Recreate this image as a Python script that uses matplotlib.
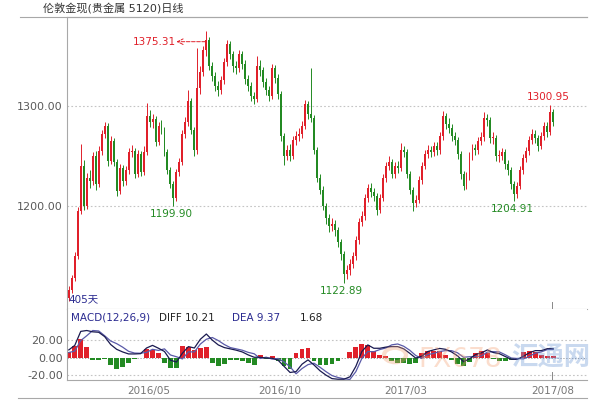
import matplotlib
matplotlib.use("Agg")
import matplotlib.pyplot as plt
import numpy as np
from matplotlib.lines import Line2D
from matplotlib.patches import Circle

plt.rcParams["font.family"] = ["DejaVu Sans", "Noto Sans CJK SC"]

# daily candles (London spot gold)
first_open = 1108
closes = [
    1116, 1128, 1150, 1195, 1240, 1200, 1228, 1225, 1250, 1222,
    1255, 1272, 1280, 1245, 1265, 1244, 1215, 1238, 1225, 1236,
    1254, 1255, 1232, 1252, 1234, 1254, 1290, 1284, 1287, 1264,
    1280, 1276, 1254, 1236, 1222, 1208, 1234, 1244, 1272, 1284,
    1305, 1276, 1256, 1318, 1334, 1356, 1366, 1340, 1330, 1320,
    1316, 1326, 1344, 1362, 1352, 1340, 1338, 1352, 1342, 1327,
    1320, 1310, 1307, 1340, 1336, 1324, 1316, 1310, 1338, 1328,
    1312, 1270, 1250, 1256, 1250, 1266, 1270, 1272, 1280, 1302,
    1292, 1288, 1256, 1228, 1216, 1200, 1188, 1180, 1182, 1176,
    1164, 1152, 1132, 1136, 1142, 1150, 1166, 1184, 1190, 1208,
    1218, 1214, 1210, 1196, 1208, 1228, 1240, 1244, 1232, 1240,
    1238, 1256, 1254, 1232, 1216, 1203, 1206, 1226, 1240, 1252,
    1256, 1254, 1260, 1256, 1270, 1290, 1282, 1278, 1270, 1266,
    1252, 1232, 1220, 1230, 1250, 1258, 1256, 1265, 1269, 1288,
    1286, 1268, 1268, 1250, 1250, 1254, 1242, 1236, 1222, 1212,
    1220, 1236, 1248, 1255, 1266, 1272, 1268, 1260, 1270, 1280,
    1274, 1294, 1284,
]
highs = [
    1120, 1131, 1154, 1199, 1262, 1246, 1233, 1236, 1254, 1255,
    1260, 1276, 1284, 1283, 1270, 1268, 1247, 1242, 1241, 1240,
    1258, 1261, 1258, 1256, 1255, 1260, 1303, 1296, 1292, 1290,
    1284, 1286, 1279, 1257, 1239, 1225, 1237, 1248, 1276, 1289,
    1316, 1308, 1279, 1358, 1340, 1360, 1375.31, 1369, 1344, 1334,
    1325, 1330, 1348, 1366, 1365, 1355, 1345, 1356, 1355, 1346,
    1331, 1324, 1314, 1350, 1346, 1339, 1328, 1320, 1342, 1341,
    1332, 1315, 1273, 1261, 1262, 1270, 1275, 1278, 1285, 1306,
    1305, 1338, 1291, 1259, 1232, 1220, 1203, 1192, 1188, 1186,
    1179, 1167, 1155, 1141, 1147, 1154, 1170, 1188, 1195, 1212,
    1222, 1223, 1218, 1213, 1212, 1232, 1244, 1250, 1247, 1244,
    1245, 1263, 1260, 1257, 1235, 1219, 1211, 1230, 1244, 1256,
    1261, 1260, 1264, 1264, 1274, 1295, 1293, 1288, 1282, 1274,
    1269, 1255, 1235, 1234, 1254, 1262, 1262, 1269, 1274, 1294,
    1292, 1289, 1274, 1271, 1256, 1258, 1257, 1246, 1239, 1225,
    1224, 1240, 1252, 1259, 1270, 1277, 1276, 1271, 1274, 1284,
    1284, 1300.95, 1297,
]
lows = [
    1105, 1113, 1125, 1147, 1192, 1196, 1197, 1218, 1221, 1216,
    1219, 1251, 1268, 1240, 1242, 1240, 1210, 1212, 1220, 1221,
    1232, 1249, 1228, 1229, 1230, 1231, 1251, 1279, 1278, 1260,
    1261, 1272, 1250, 1232, 1218, 1199.90, 1205, 1230, 1241, 1268,
    1280, 1272, 1250, 1252, 1312, 1330, 1350, 1336, 1325, 1315,
    1310, 1312, 1322, 1340, 1347, 1334, 1332, 1334, 1337, 1322,
    1315, 1305, 1302, 1304, 1330, 1319, 1311, 1305, 1307, 1323,
    1307, 1265, 1241, 1246, 1245, 1247, 1261, 1265, 1268, 1277,
    1287, 1284, 1252, 1224, 1212, 1196, 1182, 1174, 1175, 1170,
    1159, 1146, 1122.89, 1127, 1131, 1138, 1146, 1162, 1180, 1186,
    1204, 1209, 1205, 1191, 1193, 1205, 1224, 1236, 1228, 1228,
    1233, 1235, 1249, 1228, 1212, 1195, 1199, 1203, 1222, 1237,
    1248, 1249, 1250, 1251, 1252, 1266, 1277, 1273, 1265, 1261,
    1247, 1227, 1216, 1217, 1226, 1246, 1251, 1252, 1261, 1265,
    1280, 1263, 1262, 1245, 1244, 1246, 1237, 1231, 1217, 1204.91,
    1208, 1217, 1232, 1244, 1251, 1262, 1263, 1255, 1257, 1266,
    1269, 1271, 1280,
]

# MACD(12,26,9), sampled every second candle
diff = [
    8.8, 14, 30, 31, 29.5, 29, 24, 15, 9.5, 6.5, 4.2, 4.2, 4.5, 11, 14, 10.7,
    7, -3, -5, 5, 12.6, 11, 21, 27, 20, 14.5, 11.5, 10, 8.5, 6.5, 3.1, 0.4,
    0.4, -0.5, -0.7, -3, -10, -17, -16, -7.5, -2.6, -8.4, -15, -20, -24, -24.7,
    -24.7, -22, -10, 7, 14.5, 10.7, 10.7, 12, 12.6, 12.6, 10, 5, -0.5, 1.5,
    6.9, 8.8, 10.5, 9.5, 6.5, 2, -4.6, -1.5, 3.5, 5.5, 8.8, 5.8, 4.5, 1.2,
    -2, -2, 1.5, 5.5, 8, 8, 10.2, 10.21,
]
dea = [
    5.8, 7.5, 19.5, 25, 31, 30.5, 25, 19, 16, 12, 7.2, 5.2, 5, 6, 9.5, 8.2,
    10, 3, 1, -1.5, 6.6, 6.5, 15.5, 21, 23, 19.5, 15, 11.5, 10, 8.5, 6, 4.4,
    -1, 0.5, -1.7, -1, -5, -10.5, -18.5, -12.5, -8, -6.4, -11, -16, -20.5, -22.7,
    -24.2, -25, -16, -1, 7, 6.7, 9.2, 11, 14.6, 15.6, 13, 8.5, 2.5, -1,
    3.4, 4.8, 7, 8, 8, 5.5, 0.4, 1, 1, 2, 6.3, 6.8, 6.5, 3.2,
    -0.5, -1, -1.5, 1.5, 5, 6.5, 9.2, 9.37,
]
macd_bar = [
    6, 13, 21, 12, -3, -3, -2, -8, -13, -11, -6, -2, -1, 10, 9, 5,
    -6, -12, -12, 13, 12, 9, 11, 12, -6, -10, -7, -3, -3, -4, -6, -8,
    3, -2, 2, -4, -10, -13, 5, 10, 11, -4, -8, -8, -7, -4,
    -1, 6, 12, 16, 15, 8, 3, 2, -4, -6, -6, -7, -6, 5,
    7, 8, 7, 3, -3, -7, -10, -5, 5, 7, 5, -2, -4, -4,
    -3, -2, 6, 8, 6, 3, 2, 1.68,
]

mark_idx = [46, 35, 92, 149, 161]
mark_vals = [1375.31, 1199.90, 1122.89, 1204.91, 1300.95]

tick_idx = [26.7, 70.7, 112.7, 161.7]
tick_labels = ["2016/05", "2016/10", "2017/03", "2017/08"]

RED = "#e0202a"
GREEN = "#238a23"
GRID = "#c4c4c4"
FRAME = "#a8a8a8"
LBL = "#5a5a5a"

closes = np.array(closes, dtype=float)
opens = np.r_[first_open, closes[:-1]]
highs = np.array(highs)
lows = np.array(lows)
x = np.arange(len(closes))
up = closes >= opens
cols = np.where(up, RED, GREEN)

fig = plt.figure(figsize=(6.09, 4.0), dpi=100)
ax = fig.add_axes([67 / 609, 91 / 400, 520 / 609, 292 / 400])
axm = fig.add_axes([67 / 609, 20 / 400, 520 / 609, 71 / 400], sharex=ax)

# candles
ax.vlines(x, lows, highs, colors=cols, lw=0.7, zorder=3)
body = np.where(np.abs(closes - opens) < 1, 1, closes - opens)
ax.bar(x, body, bottom=opens, width=0.65, color=cols, lw=0, zorder=3)

ax.set_xlim(-0.6, 173.3)
ax.set_ylim(1097, 1389)
ax.set_yticks([1200, 1300])
ax.set_yticklabels(["1200.00", "1300.00"])
ax.tick_params(axis="y", length=0, pad=3, labelsize=8, labelcolor=LBL)
ax.tick_params(axis="x", length=0, labelbottom=False)
for v in (1200, 1300):
    ax.axhline(v, color=GRID, lw=0.8, ls=(0, (1.5, 2)), zorder=1)
for s in ("left", "top", "bottom"):
    ax.spines[s].set_color(FRAME)
    ax.spines[s].set_linewidth(0.8)
ax.spines["right"].set_visible(False)
ax.axvline(tick_idx[-1], ymin=0, ymax=7 / 292, color="#888888", lw=0.7)

# high / low marks
ax.annotate("", xy=(mark_idx[0] - 10, mark_vals[0] - 11),
            xytext=(mark_idx[0] - 0.3, mark_vals[0] - 11),
            arrowprops=dict(arrowstyle="->", ls="--", color=RED, lw=0.7,
                            shrinkA=0, shrinkB=0))
ax.text(mark_idx[0] - 10.3, mark_vals[0] - 11, f"{mark_vals[0]:.2f}",
        color=RED, fontsize=7.5, ha="right", va="center")
ax.text(mark_idx[1] - 0.7, mark_vals[1] - 8, f"{mark_vals[1]:.2f}",
        color=GREEN, fontsize=7.5, ha="center", va="center")
ax.text(mark_idx[2] - 0.7, mark_vals[2] - 8, f"{mark_vals[2]:.2f}",
        color=GREEN, fontsize=7.5, ha="center", va="center")
ax.text(mark_idx[3] - 0.7, mark_vals[3] - 8, f"{mark_vals[3]:.2f}",
        color=GREEN, fontsize=7.5, ha="center", va="center")
ax.text(mark_idx[4] - 0.7, mark_vals[4] + 8, f"{mark_vals[4]:.2f}",
        color=RED, fontsize=7.5, ha="center", va="center")

ax.text(0.003, 0.035, "405天", transform=ax.transAxes, color="#2a2a90",
        fontsize=7.5, ha="left", va="center")

# MACD panel
mx = np.arange(0, len(closes), 2)[: len(diff)]
bar = np.array(macd_bar)
axm.bar(mx, bar, width=1.6, color=np.where(bar >= 0, RED, GREEN), lw=0, zorder=2)
axm.plot(mx, dea, color="#5a5aa8", lw=0.9, zorder=3)
axm.plot(mx, diff, color="#1a1a50", lw=0.9, zorder=4)
axm.set_ylim(-25.6, 55.6)
axm.set_yticks([-20, 0, 20])
axm.set_yticklabels(["-20.00", "0.00", "20.00"])
axm.tick_params(axis="y", length=0, pad=3, labelsize=8, labelcolor=LBL)
for v in (-20, 20):
    axm.axhline(v, color=GRID, lw=0.8, ls=(0, (1.5, 2)), zorder=1)
axm.axhline(0, color="#909090", lw=0.6, ls=(0, (1.5, 2)), zorder=1)
axm.set_xticks(tick_idx)
axm.set_xticklabels(tick_labels)
axm.tick_params(axis="x", length=0, pad=4, labelsize=7.5, labelcolor="#777777")
for s in ("left", "bottom"):
    axm.spines[s].set_color(FRAME)
    axm.spines[s].set_linewidth(0.8)
axm.spines["right"].set_visible(False)
axm.spines["top"].set_visible(False)
axm.axvline(tick_idx[-1], ymin=0, ymax=8 / 71, color="#888888", lw=0.7)

axm.text(0.008, 0.88, "MACD(12,26,9)", transform=axm.transAxes,
         color="#2a2a90", fontsize=7.5, va="center")
axm.text(0.176, 0.88, f"DIFF {diff[-1]:.2f}", transform=axm.transAxes,
         color="#222222", fontsize=7.5, va="center")
axm.text(0.317, 0.88, f"DEA {dea[-1]:.2f}", transform=axm.transAxes,
         color="#2a2a90", fontsize=7.5, va="center")
axm.text(0.448, 0.88, f"{macd_bar[-1]:.2f}", transform=axm.transAxes,
         color="#222222", fontsize=7.5, va="center")

# watermark
fig.add_artist(Circle((395 / 609, 45 / 400), 0.018, transform=fig.transFigure,
                      fill=False, ec="#f0a070", lw=3, alpha=0.35))
fig.text(460 / 609, 40 / 400, "FX678", color="#f4a070", alpha=0.35,
         fontsize=19, ha="center", va="center")
fig.text(551 / 609, 42 / 400, "汇通网", color="#7aa0d8", alpha=0.4,
         fontsize=19, fontweight="bold", ha="center", va="center",
         family=["Noto Sans CJK SC"])

# frame lines and title
fig.add_artist(Line2D([20 / 609, 587 / 609], [383 / 400, 383 / 400],
                      color=FRAME, lw=0.8))
fig.add_artist(Line2D([18 / 609, 587 / 609], [2 / 400, 2 / 400],
                      color=FRAME, lw=0.8))
fig.text(43 / 609, 392 / 400, "伦敦金现(贵金属 5120)日线", color="#333333",
         fontsize=8, ha="left", va="center")

fig.savefig("out.png", dpi=100)
